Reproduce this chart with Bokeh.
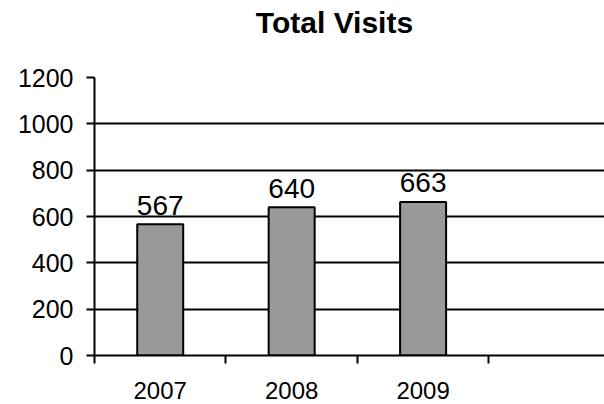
from bokeh.plotting import figure
from bokeh.models import FixedTicker, Range1d, ColumnDataSource, Label
from bokeh.core.properties import value
from bokeh.embed import file_html
from bokeh.resources import INLINE

# Data
years = ["2007", "2008", "2009"]
visits = [567, 640, 663]
y_ticks = [0, 200, 400, 600, 800, 1000, 1200]

FONT = "Liberation Sans"

xs = [i + 0.5 for i in range(len(years))]
src = ColumnDataSource(dict(x=xs, top=visits, label=[str(v) for v in visits]))

p = figure(width=604, height=404, output_backend="svg", toolbar_location=None,
           x_range=Range1d(0, 3.88), y_range=Range1d(0, 1200),
           min_border_left=94, min_border_right=0, min_border_top=77,
           min_border_bottom=49)

p.outline_line_color = None
p.background_fill_color = "white"
p.border_fill_color = "white"

# chart title in the panel above the frame (screen units from the panel's bottom-left)
title = Label(x=240, y=72, x_units="screen", y_units="screen",
              text="Total Visits", text_font=FONT, text_font_size="30px",
              text_font_style="bold", text_align="center", text_baseline="top",
              text_color="black")
p.add_layout(title, "above")

# bars
p.vbar(x="x", top="top", width=0.35, bottom=0, source=src,
       fill_color="#999999", line_color="black", line_width=2)

# value labels above bars
p.text(x="x", y="top", text="label", source=src, text_align="center",
       text_baseline="alphabetic", y_offset=-19, text_font=value(FONT),
       text_font_size="28px", text_color="black")

# y axis
p.yaxis.ticker = FixedTicker(ticks=y_ticks)
p.yaxis.axis_line_color = "black"
p.yaxis.axis_line_width = 2
p.yaxis.major_tick_out = 8
p.yaxis.major_tick_in = 0
p.yaxis.major_tick_line_width = 2
p.yaxis.minor_tick_line_color = None
p.yaxis.major_label_text_font = FONT
p.yaxis.major_label_text_font_size = "25px"
p.yaxis.major_label_text_color = "black"
p.yaxis.major_label_standoff = 13

# x axis: labels at category centres, tick marks at category boundaries
p.xaxis.ticker = FixedTicker(ticks=xs, minor_ticks=[0, 1, 2, 3])
p.xaxis.major_label_overrides = {x: y for x, y in zip(xs, years)}
p.xaxis.axis_line_color = "black"
p.xaxis.axis_line_width = 2
p.xaxis.major_tick_line_color = None
p.xaxis.minor_tick_out = 8
p.xaxis.minor_tick_in = 0
p.xaxis.minor_tick_line_width = 2
p.xaxis.minor_tick_line_color = "black"
p.xaxis.major_label_text_font = FONT
p.xaxis.major_label_text_font_size = "24px"
p.xaxis.major_label_text_line_height = 1.0
p.xaxis.major_label_text_color = "black"
p.xaxis.major_label_standoff = 18

p.xgrid.grid_line_color = None
p.ygrid.ticker = FixedTicker(ticks=y_ticks)
p.ygrid.grid_line_color = "black"
p.ygrid.grid_line_width = 2

open("out.html", "w").write(file_html(p, INLINE))
